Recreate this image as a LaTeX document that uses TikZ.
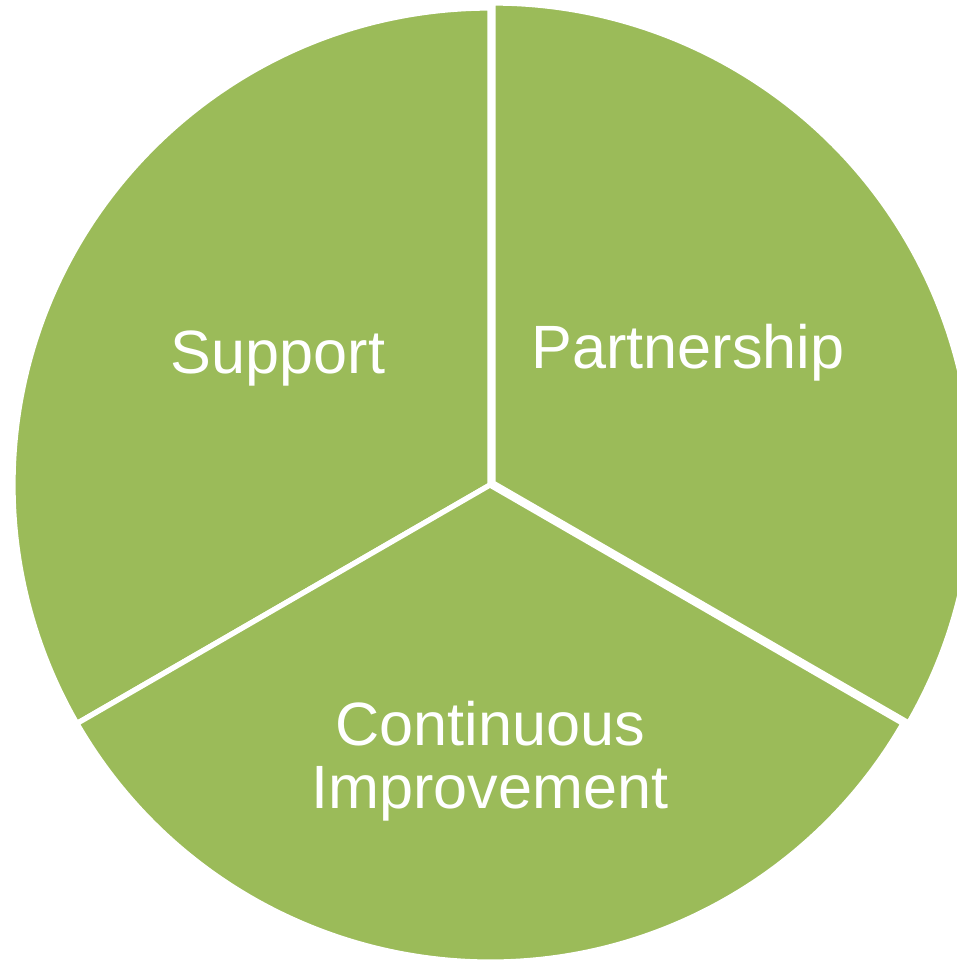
\documentclass[tikz,border=0pt]{standalone}
\usepackage{fontspec}
\setmainfont{Liberation Sans}
\definecolor{piegreen}{HTML}{9BBB59}

\begin{document}
\begin{tikzpicture}[sector/.style={fill=piegreen, draw=white, line width=1.5pt, line join=miter}, label/.style={white, font=\fontsize{17.4}{18}\selectfont, anchor=base, inner sep=0pt}]
	\useasboundingbox (0,0) rectangle (9.57,9.60);
	\clip (0,0) rectangle (9.57,9.60);

	\coordinate (O) at (4.90,4.75);
	\coordinate (P) at (4.93,4.77);

	\draw[sector] (O) -- ++(90:4.77) arc (90:210:4.77) -- cycle;
	\draw[sector] (O) -- ++(210:4.77) arc (210:330:4.77) -- cycle;
	\draw[sector] (P) -- ++(-30:4.80) arc (-30:90:4.80) -- cycle;

	\node[label] (S) at (2.78,5.87) {Support};
	\node[label] (Pa) at (6.88,5.92) {Partnership};
	\node[label] (C) at (4.90,2.15) {Continuous};
	\node[label] (I) at (4.90,1.52) {Improvement};
\end{tikzpicture}
\end{document}
